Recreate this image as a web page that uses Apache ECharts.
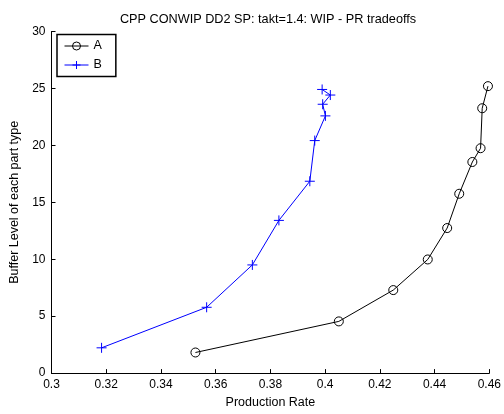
<!DOCTYPE html>
<html>
<head>
<meta charset="utf-8">
<script src="https://cdn.jsdelivr.net/npm/echarts@6/dist/echarts.min.js"></script>
<style>
  html, body { margin: 0; padding: 0; background: #fff; }
  #chart { width: 504px; height: 414px; }
</style>
</head>
<body>
<div id="chart"></div>
<script>
// Production rate vs. buffer level for each part type
const seriesAx = [0.3526, 0.4050, 0.4249, 0.4375, 0.4446, 0.4490, 0.4538, 0.4568, 0.4574, 0.4595];
const seriesAy = [1.81, 4.54, 7.29, 9.98, 12.74, 15.75, 18.54, 19.75, 23.26, 25.2];
const seriesBx = [0.3183, 0.3567, 0.3734, 0.3831, 0.3944, 0.3962, 0.4001, 0.3991, 0.4019, 0.3989];
const seriesBy = [2.22, 5.78, 9.50, 13.41, 16.85, 20.42, 22.59, 23.61, 24.42, 24.91];
const xTicks = [0.3, 0.32, 0.34, 0.36, 0.38, 0.4, 0.42, 0.44, 0.46];
const yTicks = [0, 5, 10, 15, 20, 25, 30];

const pairs = (xs, ys) => xs.map((x, i) => [x, ys[i]]);
const font = 'Liberation Sans, Arial, Helvetica, sans-serif';
const plusPath = 'path://M0,5L10,5M5,0L5,10';

const chart = echarts.init(document.getElementById('chart'), null, { renderer: 'canvas' });
chart.setOption({
  animation: false,
  backgroundColor: '#fff',
  title: {
    text: 'CPP CONWIP DD2 SP: takt=1.4: WIP - PR tradeoffs',
    left: 263, top: 8, textAlign: 'center',
    textStyle: { fontFamily: font, fontSize: 12.7, fontWeight: 'normal', color: '#000' }
  },
  legend: {
    left: 57, top: 34.5,
    orient: 'vertical',
    borderColor: '#000', borderWidth: 1.5,
    padding: [5, 14, 5, 7],
    itemWidth: 24, itemHeight: 10, itemGap: 6,
    lineStyle: { width: 1 },
    itemStyle: { borderWidth: 1 },
    textStyle: { fontFamily: font, fontSize: 12.5, color: '#000' },
    data: ['A', 'B']
  },
  grid: { left: 51.5, right: 12.5, top: 31.5, bottom: 37.5, containLabel: false },
  xAxis: {
    type: 'value', min: xTicks[0], max: xTicks[xTicks.length - 1], interval: 0.02,
    name: 'Production Rate', nameLocation: 'middle', nameGap: 22,
    nameTextStyle: { fontFamily: font, fontSize: 12.5, color: '#000' },
    axisLine: { lineStyle: { color: '#000', width: 1 } },
    axisTick: { inside: true, length: 4, lineStyle: { color: '#000' } },
    axisLabel: { fontFamily: font, fontSize: 12, color: '#000', margin: 6 },
    splitLine: { show: false }
  },
  yAxis: {
    type: 'value', min: yTicks[0], max: yTicks[yTicks.length - 1], interval: 5,
    name: 'Buffer Level of each part type', nameLocation: 'middle', nameGap: 27,
    nameTextStyle: { fontFamily: font, fontSize: 12.5, color: '#000' },
    axisLine: { lineStyle: { color: '#000', width: 1 } },
    axisTick: { inside: true, length: 4, lineStyle: { color: '#000' } },
    axisLabel: { fontFamily: font, fontSize: 12, color: '#000', margin: 6 },
    splitLine: { show: false }
  },
  series: [
    {
      name: 'A', type: 'line', data: pairs(seriesAx, seriesAy),
      symbol: 'circle', symbolSize: 9,
      lineStyle: { color: '#000', width: 1 },
      itemStyle: { color: 'rgba(0,0,0,0)', borderColor: '#000', borderWidth: 1 }
    },
    {
      name: 'B', type: 'line', data: pairs(seriesBx, seriesBy),
      symbol: plusPath, symbolSize: 10,
      lineStyle: { color: '#0000ff', width: 1 },
      itemStyle: { color: 'rgba(0,0,0,0)', borderColor: '#0000ff', borderWidth: 1 }
    }
  ]
});
</script>
</body>
</html>
